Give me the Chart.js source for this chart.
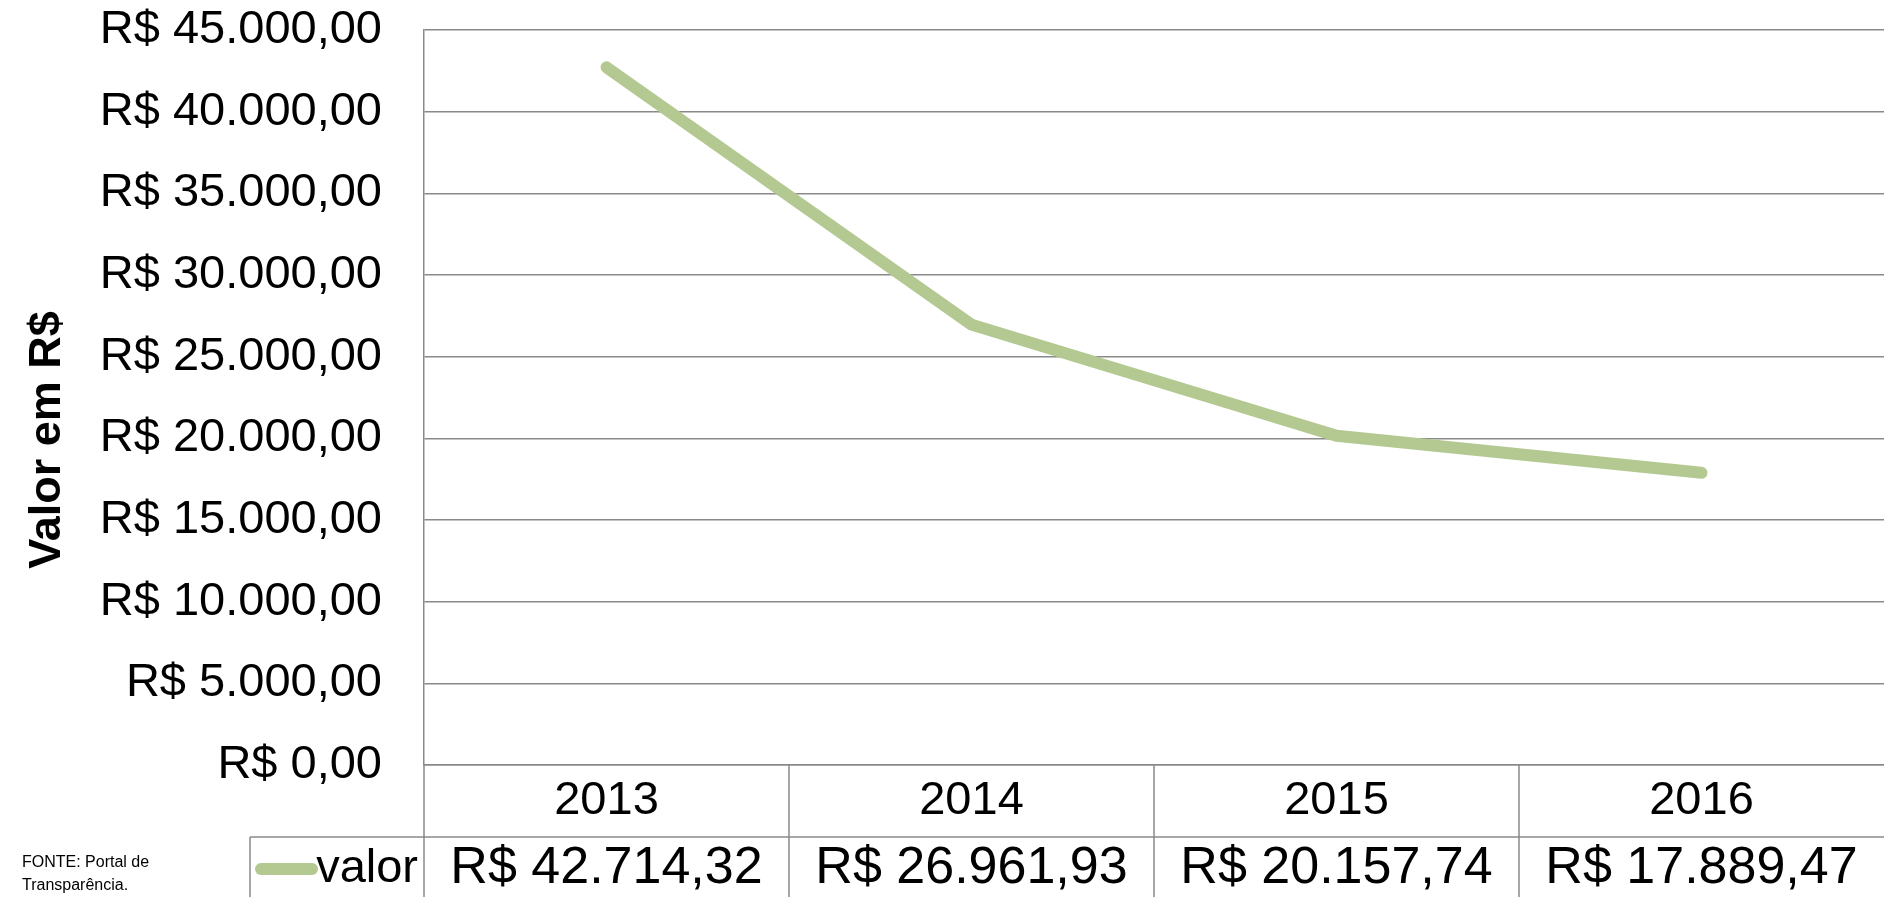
<!DOCTYPE html>
<html>
  <head>
    <title>Valor em R$</title>
    <script src="https://cdn.jsdelivr.net/npm/chart.js"></script>
    <style>
      body {
        margin: 0;
        background: white;
      }
      .chart-container {
        position: relative;
        width: 1884px;
        height: 897px;
      }
      .fonte {
        position: absolute;
        left: 22px;
        top: 850px;
        font-family: "Liberation Sans", Arial, sans-serif;
        font-size: 16px;
        line-height: 23px;
        color: #000;
      }
    </style>
  </head>
  <body>
    <div class="chart-container">
      <canvas id="valorChart"></canvas>
      <div class="fonte">FONTE: Portal de<br />Transparência.</div>
    </div>

    <script>
      const anos = ["2013", "2014", "2015", "2016"];
      const valores = [42714.32, 26961.93, 20157.74, 17889.47];
      const nomeSerie = "valor";
      const yMax = 45000;
      const yPasso = 5000;

      const verde = "#b3c991";
      const cinza = "#8a8a8a";
      const fonte = "'Liberation Sans', Arial, sans-serif";

      function formatarReal(v) {
        const partes = v.toFixed(2).split(".");
        const inteiro = partes[0].replace(/\B(?=(\d{3})+(?!\d))/g, ".");
        return "R$ " + inteiro + "," + partes[1];
      }

      // tabela de dados embaixo do eixo x + titulo do eixo y
      const tabelaPlugin = {
        id: "tabela",
        afterDraw(chart) {
          const ctx = chart.ctx;
          const x = chart.scales.x;
          const area = chart.chartArea;
          const fim = chart.height;
          const linhaValores = 837;
          const legendaEsq = 250;

          ctx.save();
          ctx.strokeStyle = cinza;
          ctx.lineWidth = 1.5;
          ctx.beginPath();
          ctx.moveTo(area.left, area.bottom);
          ctx.lineTo(area.left, fim);
          for (let i = 0; i < anos.length - 1; i++) {
            const meio = (x.getPixelForValue(i) + x.getPixelForValue(i + 1)) / 2;
            ctx.moveTo(meio, area.bottom);
            ctx.lineTo(meio, fim);
          }
          ctx.moveTo(legendaEsq, linhaValores);
          ctx.lineTo(area.right, linhaValores);
          ctx.moveTo(legendaEsq, linhaValores);
          ctx.lineTo(legendaEsq, fim);
          ctx.stroke();

          ctx.fillStyle = "#000";
          ctx.font = "52px " + fonte;
          ctx.textBaseline = "middle";
          ctx.textAlign = "center";
          const yTexto = (linhaValores + fim) / 2 + 2;
          valores.forEach((v, i) => {
            ctx.fillText(formatarReal(v), x.getPixelForValue(i), yTexto);
          });

          ctx.font = "47px " + fonte;
          ctx.textAlign = "right";
          ctx.fillText(nomeSerie, area.left - 6, yTexto);

          ctx.strokeStyle = verde;
          ctx.lineWidth = 12;
          ctx.lineCap = "round";
          ctx.beginPath();
          ctx.moveTo(261, yTexto);
          ctx.lineTo(312, yTexto);
          ctx.stroke();

          ctx.translate(48, 440);
          ctx.rotate(-Math.PI / 2);
          ctx.textAlign = "center";
          ctx.fillStyle = "#000";
          ctx.font = "bold 45px " + fonte;
          ctx.fillText("Valor em R$", 0, 0);
          ctx.restore();
        },
      };

      const ctx = document.getElementById("valorChart").getContext("2d");
      new Chart(ctx, {
        type: "line",
        data: {
          labels: anos,
          datasets: [
            {
              label: nomeSerie,
              data: valores,
              borderColor: verde,
              borderWidth: 12,
              borderCapStyle: "round",
              borderJoinStyle: "round",
              pointRadius: 0,
              tension: 0,
            },
          ],
        },
        options: {
          responsive: true,
          maintainAspectRatio: false,
          animation: false,
          layout: { padding: { top: 30, right: 0, left: 0, bottom: 0 } },
          plugins: {
            legend: { display: false },
            tooltip: { enabled: false },
          },
          scales: {
            x: {
              offset: true,
              grid: { display: false, drawTicks: false },
              border: { display: true, color: cinza, width: 1.5 },
              ticks: {
                color: "#000",
                padding: 8,
                font: { family: fonte, size: 47 },
              },
              afterFit(scale) {
                scale.height = 132;
                scale.paddingLeft = 0;
                scale.paddingRight = 0;
              },
            },
            y: {
              min: 0,
              max: yMax,
              grid: { color: cinza, lineWidth: 1.5, drawTicks: false },
              border: { display: true, color: cinza, width: 1.5 },
              ticks: {
                stepSize: yPasso,
                color: "#000",
                padding: 42,
                font: { family: fonte, size: 47 },
                callback: (v) => formatarReal(v),
              },
              afterFit(scale) {
                scale.width = 424;
                scale.paddingTop = 0;
                scale.paddingBottom = 0;
              },
            },
          },
        },
        plugins: [tabelaPlugin],
      });
    </script>
  </body>
</html>
